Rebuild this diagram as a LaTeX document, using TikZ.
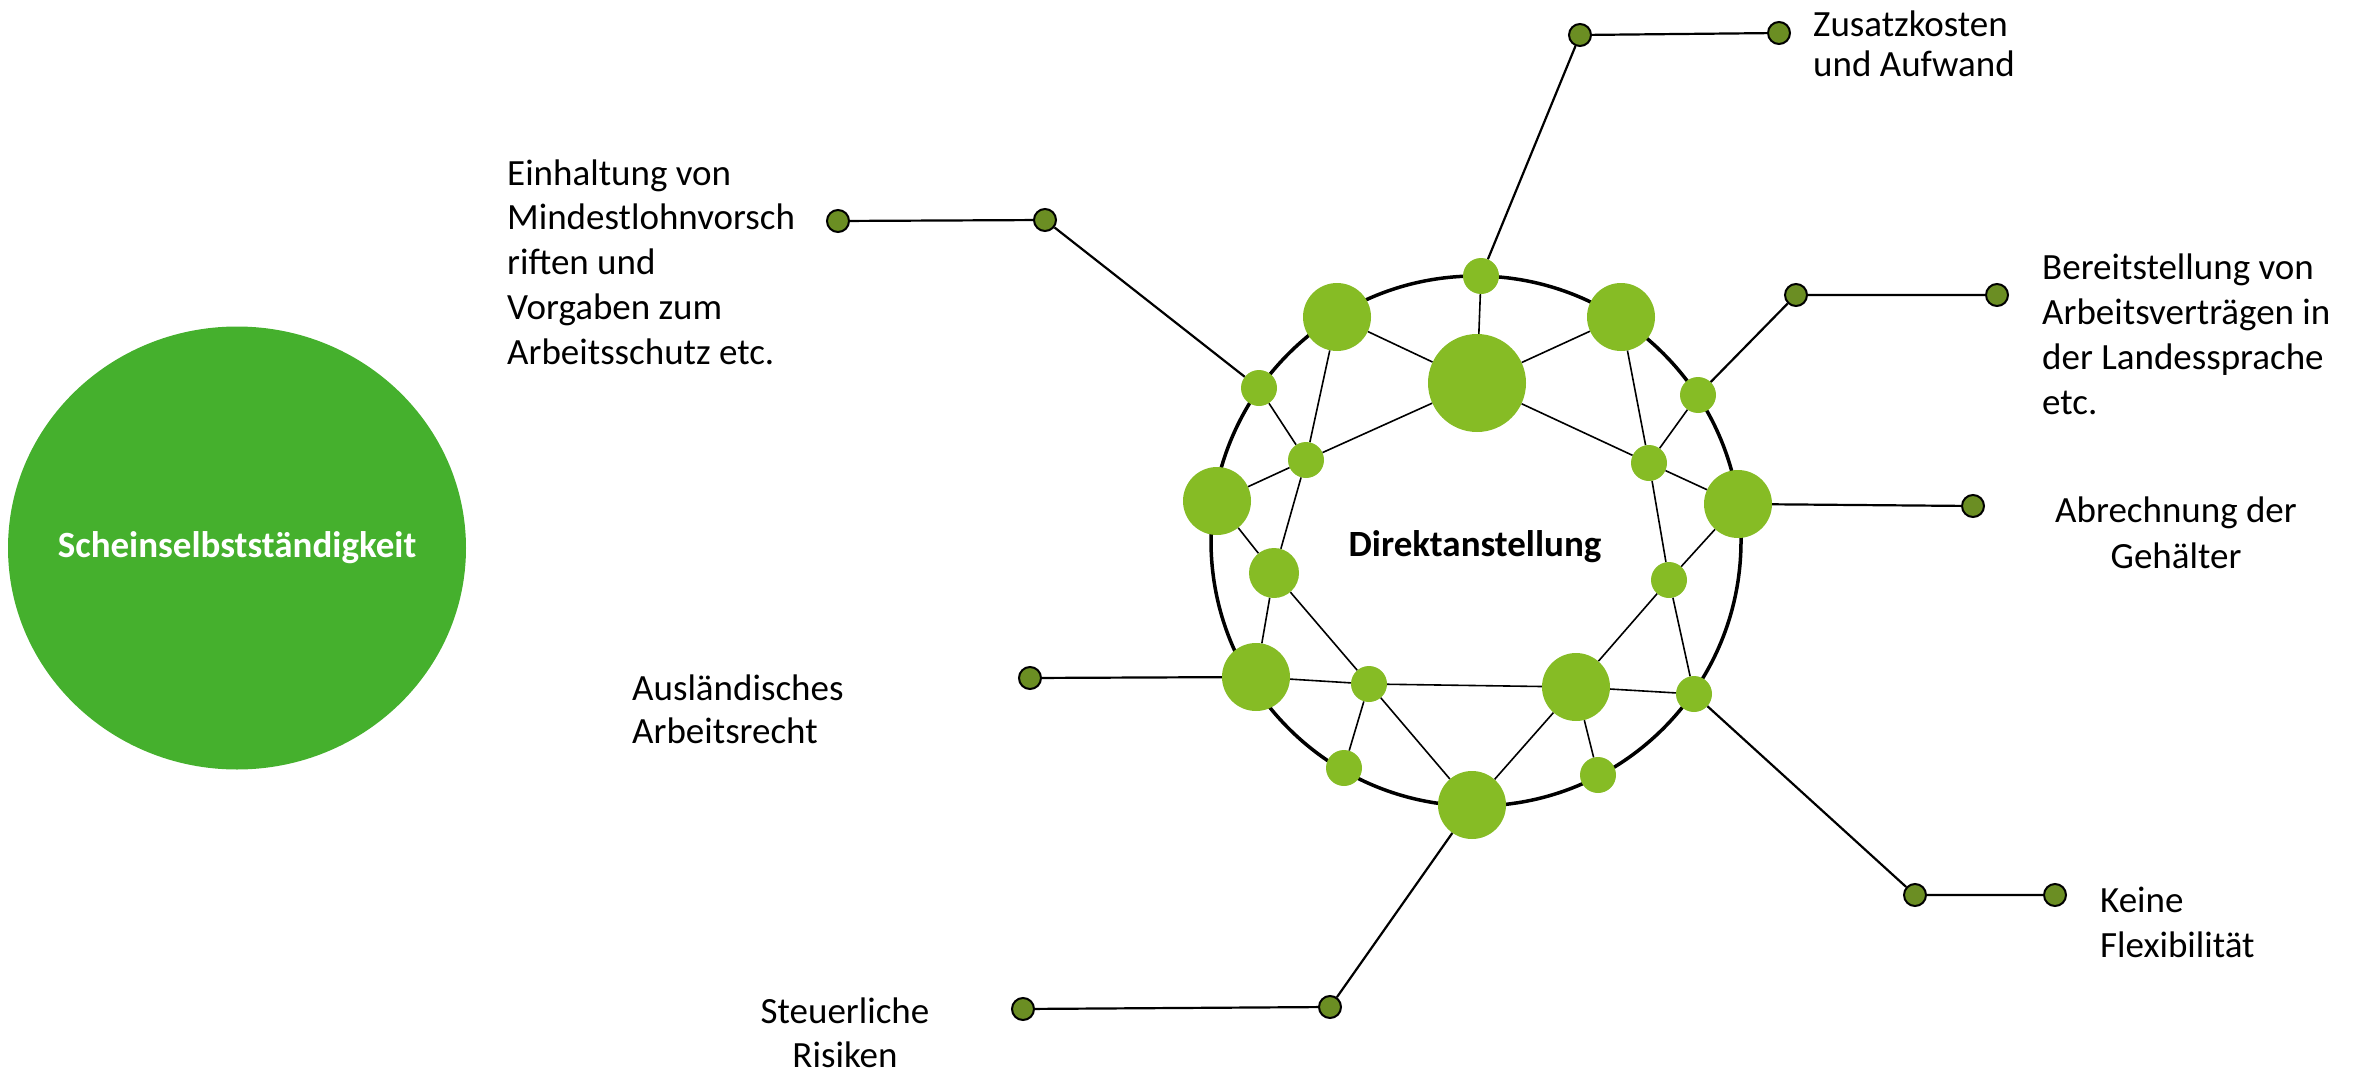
\documentclass[tikz,border=0pt]{standalone}
\usepackage{fontspec}
\setmainfont{Carlito}
\usetikzlibrary{positioning, shapes.geometric}
\definecolor{bubblegreen}{HTML}{45B02D}
\definecolor{netgreen}{HTML}{86BC25}
\definecolor{pingreen}{HTML}{6B8E23}

\tikzset{
  hub/.style={circle, fill=netgreen, inner sep=0pt, minimum size=#1},
  pin/.style={circle, fill=pingreen, draw=black, line width=2pt, inner sep=0pt, minimum size=22pt},
  link/.style={line width=1.6pt},
  lead/.style={line width=2.2pt},
  caption/.style={inner sep=0pt, font=\fontsize{37}{#1}\selectfont},
  caption/.default=44.7,
  headline/.style={inner sep=0pt, font=\fontsize{37}{44}\selectfont\bfseries}
}

\begin{document}
\begin{tikzpicture}[x=1pt, y=-1pt]
\useasboundingbox (0,0) rectangle (2362,1073);

% left bubble
\node[ellipse, fill=bubblegreen, minimum width=458pt, minimum height=443pt, inner sep=0pt] (schein) at (237,548) {};
\node[headline, text=white] (scheinT) at (schein.center) {Scheinselbstständigkeit};

% ring
\draw[line width=3.5pt] (1476,541) circle (265);

% network hubs
\node[hub=36pt] (top) at (1481,276) {};
\node[hub=68pt] (tl) at (1337,317) {};
\node[hub=68pt] (tr) at (1621,317) {};
\node[hub=98pt] (core) at (1477,383) {};
\node[hub=36pt] (lo) at (1259,388) {};
\node[hub=36pt] (li) at (1306,460) {};
\node[hub=68pt] (lb) at (1217,501) {};
\node[hub=50pt] (lm) at (1274,573) {};
\node[hub=68pt] (bl) at (1256,677) {};
\node[hub=36pt] (bi) at (1369,684) {};
\node[hub=36pt] (bs) at (1344,768) {};
\node[hub=68pt] (bot) at (1472,805) {};
\node[hub=68pt] (br) at (1576,687) {};
\node[hub=36pt] (brs) at (1598,775) {};
\node[hub=36pt] (rlo) at (1694,694) {};
\node[hub=36pt] (rm) at (1669,580) {};
\node[hub=68pt] (rb) at (1738,504) {};
\node[hub=36pt] (ri) at (1649,463) {};
\node[hub=36pt] (ro) at (1698,395) {};

\node[headline, anchor=base] (direkt) at (1475,556) {Direktanstellung};

% links inside the ring
\draw[link] (top) -- (core);
\draw[link] (tl) -- (core);
\draw[link] (tr) -- (core);
\draw[link] (core) -- (li);
\draw[link] (core) -- (ri);
\draw[link] (tl) -- (li);
\draw[link] (lo) -- (li);
\draw[link] (li) -- (lb);
\draw[link] (li) -- (lm);
\draw[link] (lb) -- (lm);
\draw[link] (lm) -- (bl);
\draw[link] (lm) -- (bi);
\draw[link] (bl) -- (bi);
\draw[link] (bi) -- (br);
\draw[link] (bi) -- (bs);
\draw[link] (bi) -- (bot);
\draw[link] (bot) -- (br);
\draw[link] (br) -- (brs);
\draw[link] (br) -- (rlo);
\draw[link] (br) -- (rm);
\draw[link] (rm) -- (rb);
\draw[link] (tr) -- (ri);
\draw[link] (ri) -- (rm);
\draw[link] (rm) -- (rlo);
\draw[link] (ri) -- (ro);
\draw[link] (ri) -- (rb);

% pins
\node[pin] (zusA) at (1580,35) {};
\node[pin] (zusB) at (1779,33) {};
\node[pin] (einA) at (1045,220) {};
\node[pin] (einB) at (838,221) {};
\node[pin] (berA) at (1796,295) {};
\node[pin] (berB) at (1997,295) {};
\node[pin] (abr) at (1973,506) {};
\node[pin] (keiA) at (1915,895) {};
\node[pin] (keiB) at (2055,895) {};
\node[pin] (aus) at (1030,678) {};
\node[pin] (steA) at (1330,1007) {};
\node[pin] (steB) at (1023,1009) {};

% leaders
\draw[lead] (top) -- (zusA) -- (zusB);
\draw[lead] (lo) -- (einA) -- (einB);
\draw[lead] (ro) -- (berA) -- (berB);
\draw[lead] (rb) -- (abr);
\draw[lead] (rlo) -- (keiA) -- (keiB);
\draw[lead] (bl) -- (aus);
\draw[lead] (bot) -- (steA) -- (steB);

% captions (base = last line)
\node[caption=40, anchor=base west, align=left] (zusT) at (1813,77) {Zusatzkosten\\und Aufwand};
\node[caption, anchor=base west, align=left] (einT) at (507,364) {Einhaltung von\\Mindestlohnvorsch\\riften und\\Vorgaben zum\\Arbeitsschutz etc.};
\node[caption=45, anchor=base west, align=left] (berT) at (2042,414) {Bereitstellung von\\Arbeitsverträgen in\\der Landessprache\\etc.};
\node[caption=46, anchor=base, align=center] (abrT) at (2176,568) {Abrechnung der\\Gehälter};
\node[caption=45, anchor=base west, align=left] (keiT) at (2100,957) {Keine\\Flexibilität};
\node[caption=43, anchor=base west, align=left] (ausT) at (632,743) {Ausländisches\\Arbeitsrecht};
\node[caption=44, anchor=base, align=center] (steT) at (845,1067) {Steuerliche\\Risiken};
\end{tikzpicture}
\end{document}
